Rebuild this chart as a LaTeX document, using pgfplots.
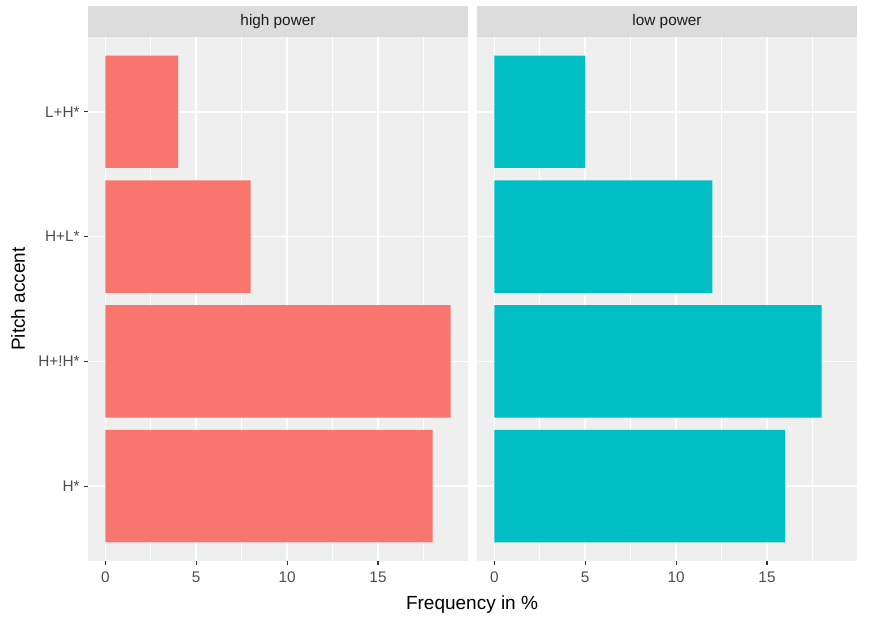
\documentclass[border=0pt]{standalone}
\usepackage{fontspec}
\setmainfont{Liberation Sans}
\usepackage{pgfplots}
\pgfplotsset{compat=1.18}
\definecolor{panelbg}{HTML}{EFEFEF}
\definecolor{stripbg}{HTML}{DCDCDC}
\definecolor{hp}{HTML}{F8766D}
\definecolor{lp}{HTML}{00BFC4}
\definecolor{g20}{HTML}{333333}
\definecolor{g30}{HTML}{4D4D4D}
\definecolor{g10}{HTML}{1A1A1A}

\pgfplotsset{facet/.style={
  scale only axis, width=285pt, height=393pt,
  xmin=-0.95, xmax=19.95, ymin=0.4, ymax=4.6,
  axis line style={draw=none},
  axis background/.style={fill=panelbg},
  xtick={0,5,10,15}, minor xtick={2.5,7.5,12.5,17.5},
  ytick={1,2,3,4},
  grid=both,
  major grid style={white, line width=1.05pt},
  minor grid style={white, line width=0.5pt},
  tick align=outside, tick pos=left,
  major tick length=2.75pt, minor tick length=0pt,
  tick style={g20, line width=0.8pt},
  tick label style={font=\fontsize{11.5}{13}\selectfont, text=g30},
  x tick label style={yshift=-2pt},
  /pgf/number format/assume math mode=true,
  xbar, bar width=0.9, bar shift=0pt,
  clip=false,
}}

\begin{document}
\begin{tikzpicture}
\path[use as bounding box] (-66pt,-46.5pt) rectangle (586.5pt,420.75pt);

% high power
\begin{axis}[facet, at={(0pt,0pt)}, anchor=south west,
  yticklabels={H*,H+!H*,H+L*,L+H*}]
\addplot[fill=hp, draw=none] coordinates {(18,1) (19,2) (8,3) (4,4)};
\fill[stripbg] (rel axis cs:0,1) rectangle ([yshift=23.25pt]rel axis cs:1,1);
\node[font=\fontsize{11.5}{13}\selectfont, text=g10] at ([yshift=11.6pt]rel axis cs:0.5,1) {high power};
\end{axis}

% low power
\begin{axis}[facet, at={(291.75pt,0pt)}, anchor=south west,
  yticklabels={}, ytick style={draw=none}]
\addplot[fill=lp, draw=none] coordinates {(16,1) (18,2) (12,3) (5,4)};
\fill[stripbg] (rel axis cs:0,1) rectangle ([yshift=23.25pt]rel axis cs:1,1);
\node[font=\fontsize{11.5}{13}\selectfont, text=g10] at ([yshift=11.6pt]rel axis cs:0.5,1) {low power};
\end{axis}

\node[font=\fontsize{14.25}{16}\selectfont] at (288pt,-32.5pt) {Frequency in \%};
\node[font=\fontsize{14.25}{16}\selectfont, rotate=90] at (-52.5pt,196.5pt) {Pitch accent};
\end{tikzpicture}
\end{document}
